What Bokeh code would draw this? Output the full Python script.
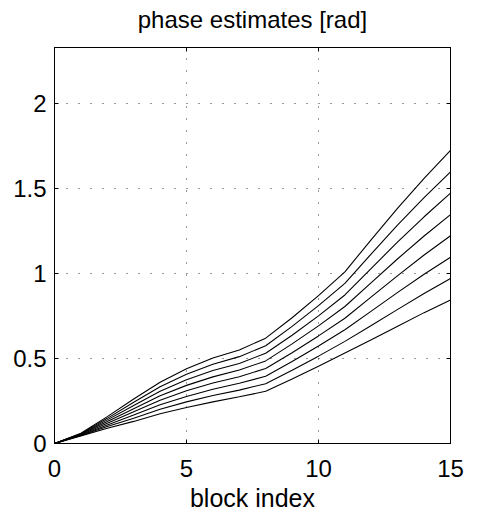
from bokeh.plotting import figure
from bokeh.models import FixedTicker, LinearAxis, Range1d
from bokeh.embed import file_html
from bokeh.resources import INLINE

block_index = list(range(16))

phase_1 = [0, 0.045, 0.090, 0.130, 0.175, 0.212, 0.245, 0.275, 0.307, 0.380, 0.455, 0.533, 0.610, 0.690, 0.770, 0.845]
phase_2 = [0, 0.047, 0.100, 0.149, 0.201, 0.245, 0.282, 0.314, 0.352, 0.431, 0.514, 0.601, 0.694, 0.789, 0.883, 0.971]
phase_3 = [0, 0.049, 0.109, 0.168, 0.228, 0.277, 0.319, 0.354, 0.396, 0.483, 0.574, 0.669, 0.779, 0.889, 0.996, 1.096]
phase_4 = [0, 0.051, 0.119, 0.187, 0.254, 0.310, 0.356, 0.393, 0.441, 0.534, 0.633, 0.737, 0.863, 0.988, 1.109, 1.222]
phase_5 = [0, 0.054, 0.129, 0.205, 0.281, 0.342, 0.392, 0.432, 0.486, 0.586, 0.692, 0.806, 0.947, 1.087, 1.221, 1.347]
phase_6 = [0, 0.056, 0.139, 0.224, 0.307, 0.375, 0.429, 0.471, 0.531, 0.637, 0.751, 0.874, 1.031, 1.186, 1.334, 1.473]
phase_7 = [0, 0.058, 0.148, 0.243, 0.334, 0.407, 0.466, 0.511, 0.575, 0.689, 0.811, 0.942, 1.116, 1.286, 1.447, 1.598]
phase_8 = [0, 0.060, 0.158, 0.262, 0.360, 0.440, 0.503, 0.550, 0.620, 0.740, 0.870, 1.010, 1.200, 1.385, 1.560, 1.724]
all_phases = [phase_1, phase_2, phase_3, phase_4, phase_5, phase_6, phase_7, phase_8]

x_ticks = [0, 5, 10, 15]
x_tick_labels = ["0", "5", "10", "15"]
y_ticks = [0, 0.5, 1, 1.5, 2]
y_tick_labels = ["0", "0.5", "1", "1.5", "2"]

title_text = "phase estimates [rad]"
x_label = "block index"

FONT = "Liberation Sans"
FS = "24px"

p = figure(width=477, height=514, output_backend="svg", toolbar_location=None,
           x_range=Range1d(0, 15), y_range=Range1d(0, 2.33),
           min_border_left=54, min_border_right=27, min_border_top=47,
           min_border_bottom=70)
p.background_fill_color = "white"
p.border_fill_color = "white"
p.outline_line_color = "black"
p.outline_line_width = 1

for series in all_phases:
    p.line(block_index, series, line_color="black", line_width=1.1)

xt = FixedTicker(ticks=x_ticks)
yt = FixedTicker(ticks=y_ticks)

def style_axis(ax, ticker, overrides):
    ax.ticker = ticker
    ax.major_label_overrides = overrides
    ax.minor_tick_line_color = None
    ax.major_tick_in = 4
    ax.major_tick_out = 0
    ax.major_tick_line_color = "black"
    ax.axis_line_color = "black"
    ax.axis_line_width = 1
    ax.major_label_text_font = FONT
    ax.major_label_text_font_size = FS
    ax.major_label_text_color = "black"
    ax.axis_label_text_font = FONT
    ax.axis_label_text_font_size = "25px"
    ax.axis_label_text_font_style = "normal"
    ax.axis_label_text_color = "black"

xo = dict(zip(x_ticks, x_tick_labels))
yo = dict(zip(y_ticks, y_tick_labels))
blank_x = {t: "" for t in x_ticks}
blank_y = {t: "" for t in y_ticks}

style_axis(p.xaxis[0], xt, xo)
p.xaxis[0].axis_label = x_label
p.xaxis[0].major_label_standoff = 16
p.xaxis[0].axis_label_standoff = 4
style_axis(p.yaxis[0], yt, yo)
p.yaxis[0].major_label_standoff = 8

# top axis carries the title as its axis label
top_ax = LinearAxis()
style_axis(top_ax, xt, blank_x)
top_ax.major_label_standoff = 0
top_ax.axis_label = title_text
top_ax.axis_label_text_font_size = FS
top_ax.axis_label_standoff = 15
p.add_layout(top_ax, "above")

right_ax = LinearAxis()
style_axis(right_ax, yt, blank_y)
right_ax.major_label_standoff = 0
p.add_layout(right_ax, "right")

for g, t in ((p.xgrid[0], xt), (p.ygrid[0], yt)):
    g.ticker = t
    g.grid_line_color = "#333333"
    g.grid_line_dash = "1 11"
    g.grid_line_width = 1

open("out.html", "w").write(file_html(p, INLINE))
